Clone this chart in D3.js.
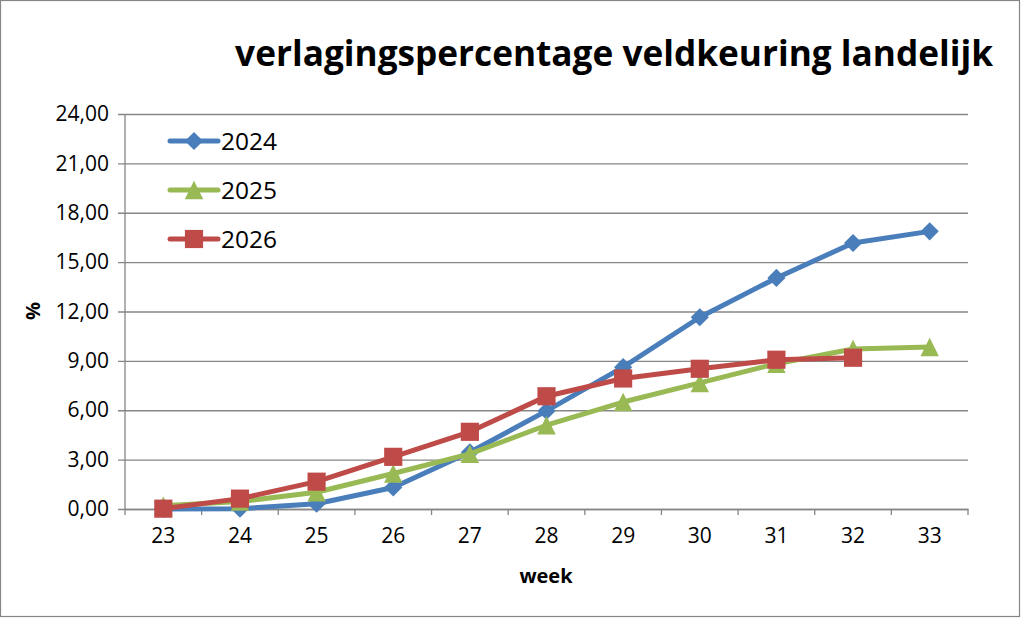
<!DOCTYPE html>
<html>
<head>
<meta charset="utf-8">
<script src="https://cdn.jsdelivr.net/npm/d3@7"></script>
<style>
  html, body { margin: 0; padding: 0; background: #fff; }
</style>
</head>
<body>
<div id="chart"></div>
<script>
const weeks = [23, 24, 25, 26, 27, 28, 29, 30, 31, 32, 33];
const yTicks = [0, 3, 6, 9, 12, 15, 18, 21, 24];

const values2024 = [0.00, 0.02, 0.32, 1.31, 3.45, 5.96, 8.62, 11.65, 14.04, 16.16, 16.87];
const values2025 = [0.20, 0.45, 1.02, 2.16, 3.35, 5.09, 6.50, 7.66, 8.83, 9.72, 9.84];
const values2026 = [0.02, 0.63, 1.66, 3.17, 4.69, 6.85, 7.93, 8.52, 9.07, 9.19];

const series = [
  { name: "2024", values: values2024, color: "#4a7ebb", marker: "diamond" },
  { name: "2025", values: values2025, color: "#98b954", marker: "triangle" },
  { name: "2026", values: values2026, color: "#be4b48", marker: "square" }
];

const width = 1024, height = 619;
const margin = { top: 114, right: 56, bottom: 110, left: 125 };
const innerW = width - margin.left - margin.right;
const innerH = height - margin.top - margin.bottom;
const font = "'Open Sans', 'Noto Sans', sans-serif";

const svg = d3.select("#chart")
  .append("svg")
  .attr("width", width)
  .attr("height", height)
  .style("font-family", font);

// outer frame
svg.append("rect")
  .attr("x", 0.5).attr("y", 0.5)
  .attr("width", 1019).attr("height", 616)
  .attr("fill", "#fff")
  .attr("stroke", "#868686")
  .attr("stroke-width", 1.2);

const g = svg.append("g")
  .attr("transform", `translate(${margin.left},${margin.top})`);

const x = d3.scaleBand().domain(weeks).range([0, innerW]);
const y = d3.scaleLinear().domain([0, 24]).range([innerH, 0]);
const cx = w => x(w) + x.bandwidth() / 2;

// gridlines + y axis
const yAxis = g.append("g")
  .call(d3.axisLeft(y).tickValues(yTicks).tickSize(-innerW).tickPadding(16)
    .tickFormat(d => d3.format(".2f")(d).replace(".", ",")));
yAxis.select(".domain").remove();
yAxis.selectAll(".tick line")
  .attr("x1", -7)
  .attr("stroke", "#868686")
  .attr("stroke-width", 1.3);
yAxis.selectAll(".tick text")
  .style("font-size", "21px")
  .style("font-family", font)
  .attr("fill", "#000");

g.append("line")
  .attr("x1", 0).attr("x2", 0)
  .attr("y1", 0).attr("y2", innerH)
  .attr("stroke", "#868686").attr("stroke-width", 1.3);

// x axis
const xAxis = g.append("g")
  .attr("transform", `translate(0,${innerH})`)
  .call(d3.axisBottom(x).tickSize(0).tickPadding(19));
xAxis.select(".domain")
  .attr("stroke", "#868686").attr("stroke-width", 1.3);
xAxis.selectAll(".tick text")
  .style("font-size", "21px")
  .style("font-family", font)
  .attr("fill", "#000");

g.append("g")
  .selectAll("line")
  .data(weeks.concat([null]))
  .join("line")
  .attr("x1", (d, i) => i * x.bandwidth())
  .attr("x2", (d, i) => i * x.bandwidth())
  .attr("y1", innerH)
  .attr("y2", innerH + 6)
  .attr("stroke", "#868686")
  .attr("stroke-width", 1.3);

// lines
const line = d3.line()
  .x((d, i) => cx(weeks[i]))
  .y(d => y(d));

// excel style triangle: as tall as it is wide
const tallTriangle = {
  draw(ctx, size) {
    const h = Math.sqrt(size);
    ctx.moveTo(0, -h / 2);
    ctx.lineTo(h / 2, h / 2);
    ctx.lineTo(-h / 2, h / 2);
    ctx.closePath();
  }
};

const symbols = {
  diamond: d3.symbol().type(d3.symbolDiamond2).size(210),
  triangle: d3.symbol().type(tallTriangle).size(340),
  square: d3.symbol().type(d3.symbolSquare).size(330)
};

series.forEach(s => {
  g.append("path")
    .datum(s.values)
    .attr("fill", "none")
    .attr("stroke", s.color)
    .attr("stroke-width", 5)
    .attr("stroke-linejoin", "round")
    .attr("d", line);

  g.append("g")
    .selectAll("path")
    .data(s.values)
    .join("path")
    .attr("transform", (d, i) => `translate(${cx(weeks[i])},${y(d)})`)
    .attr("d", symbols[s.marker]())
    .attr("fill", s.color);
});

// legend
const legend = svg.append("g").attr("transform", "translate(170,141)");
series.forEach((s, i) => {
  const row = legend.append("g").attr("transform", `translate(0,${i * 49})`);
  row.append("line")
    .attr("x1", 0).attr("x2", 48)
    .attr("stroke", s.color).attr("stroke-width", 5)
    .attr("stroke-linecap", "round");
  row.append("path")
    .attr("transform", "translate(24,0)")
    .attr("d", symbols[s.marker]())
    .attr("fill", s.color);
  row.append("text")
    .attr("x", 51).attr("y", 9)
    .style("font-size", "24.5px")
    .text(s.name);
});

// axis titles
svg.append("text")
  .attr("x", 546).attr("y", 583)
  .attr("text-anchor", "middle")
  .style("font-size", "20px")
  .style("font-weight", "700")
  .text("week");

svg.append("text")
  .attr("transform", "translate(40,311) rotate(-90)")
  .attr("text-anchor", "middle")
  .style("font-size", "20px")
  .style("font-weight", "700")
  .text("%");

// title
svg.append("text")
  .attr("x", 993).attr("y", 66)
  .attr("text-anchor", "end")
  .style("font-size", "35.2px")
  .style("font-weight", "700")
  .text("verlagingspercentage veldkeuring landelijk");
</script>
</body>
</html>
